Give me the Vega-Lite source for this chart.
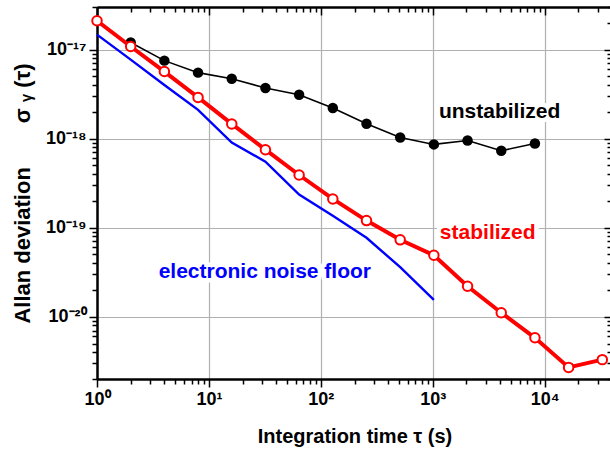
{
  "$schema": "https://vega.github.io/schema/vega-lite/v6.json",
  "width": 515,
  "height": 372,
  "autosize": "none",
  "padding": {"left": 97, "top": 7, "right": 0, "bottom": 70},
  "background": "white",
  "config": {"view": {"stroke": null}, "font": "Liberation Sans"},
  "datasets": {
    "allan": [
      {"series": "stabilized", "tau": 1, "sigma": 2.1e-17},
      {"series": "stabilized", "tau": 2, "sigma": 1.08e-17},
      {"series": "stabilized", "tau": 4, "sigma": 5.66e-18},
      {"series": "stabilized", "tau": 8, "sigma": 2.9e-18},
      {"series": "stabilized", "tau": 16, "sigma": 1.46e-18},
      {"series": "stabilized", "tau": 32, "sigma": 7.5e-19},
      {"series": "stabilized", "tau": 64, "sigma": 3.9e-19},
      {"series": "stabilized", "tau": 128, "sigma": 2.1e-19},
      {"series": "stabilized", "tau": 256, "sigma": 1.2e-19},
      {"series": "stabilized", "tau": 512, "sigma": 7.3e-20},
      {"series": "stabilized", "tau": 1024, "sigma": 4.9e-20},
      {"series": "stabilized", "tau": 2048, "sigma": 2.2e-20},
      {"series": "stabilized", "tau": 4096, "sigma": 1.11e-20},
      {"series": "stabilized", "tau": 8192, "sigma": 5.8e-21},
      {"series": "stabilized", "tau": 16384, "sigma": 2.7e-21},
      {"series": "stabilized", "tau": 32768, "sigma": 3.3e-21},
      {"series": "unstabilized", "tau": 2, "sigma": 1.2e-17},
      {"series": "unstabilized", "tau": 4, "sigma": 7.5e-18},
      {"series": "unstabilized", "tau": 8, "sigma": 5.5e-18},
      {"series": "unstabilized", "tau": 16, "sigma": 4.7e-18},
      {"series": "unstabilized", "tau": 32, "sigma": 3.7e-18},
      {"series": "unstabilized", "tau": 64, "sigma": 3.1e-18},
      {"series": "unstabilized", "tau": 128, "sigma": 2.2e-18},
      {"series": "unstabilized", "tau": 256, "sigma": 1.47e-18},
      {"series": "unstabilized", "tau": 512, "sigma": 1.03e-18},
      {"series": "unstabilized", "tau": 1024, "sigma": 8.6e-19},
      {"series": "unstabilized", "tau": 2048, "sigma": 9.5e-19},
      {"series": "unstabilized", "tau": 4096, "sigma": 7.3e-19},
      {"series": "unstabilized", "tau": 8192, "sigma": 8.8e-19}
    ],
    "noise": [
      {"tau": 1, "sigma": 1.47e-17},
      {"tau": 2, "sigma": 7.7e-18},
      {"tau": 4, "sigma": 4.0e-18},
      {"tau": 8, "sigma": 2.1e-18},
      {"tau": 16, "sigma": 9.0e-19},
      {"tau": 32, "sigma": 5.5e-19},
      {"tau": 64, "sigma": 2.35e-19},
      {"tau": 128, "sigma": 1.36e-19},
      {"tau": 256, "sigma": 7.7e-20},
      {"tau": 512, "sigma": 3.6e-20},
      {"tau": 1024, "sigma": 1.55e-20}
    ],
    "labels": [
      {"text": "unstabilized", "tau": 3960, "sigma": 2.0e-18, "color": "black"},
      {"text": "stabilized", "tau": 3100, "sigma": 8.8e-20, "color": "red"},
      {"text": "electronic noise floor", "tau": 31.6, "sigma": 3.2e-20, "color": "blue"}
    ]
  },
  "layer": [
    {
      "layer": [
        {
          "data": {"name": "allan"},
          "transform": [{"filter": "datum.series == 'unstabilized'"}],
          "mark": {"type": "line", "color": "black", "strokeWidth": 1.6, "clip": true},
          "encoding": {
            "x": {
              "field": "tau", "type": "quantitative",
              "scale": {"type": "log", "domain": [1, 40000], "nice": false, "zero": false},
              "axis": {
                "orient": "bottom",
                "values": [1,2,3,4,5,6,7,8,9,10,20,30,40,50,60,70,80,90,100,200,300,400,500,600,700,800,900,1000,2000,3000,4000,5000,6000,7000,8000,9000,10000,20000,30000,40000],
                "labelExpr": "datum.value==1?'10⁰':datum.value==10?'10¹':datum.value==100?'10²':datum.value==1000?'10³':datum.value==10000?'10⁴':''",
                "grid": true,
                "gridColor": "#b0b0b0",
                "gridWidth": 1.2,
                "gridOpacity": {"condition": {"test": "abs(log(datum.value)/LN10 - round(log(datum.value)/LN10)) < 0.001", "value": 1}, "value": 0},
                "domainColor": "black",
                "domainWidth": 2.5,
                "tickColor": "black",
                "tickWidth": 1.5,
                "tickSize": {"condition": {"test": "abs(log(datum.value)/LN10 - round(log(datum.value)/LN10)) < 0.001", "value": 8}, "value": 5},
                "labelFont": "Liberation Sans",
                "labelFontWeight": "bold",
                "labelFontSize": 18,
                "labelColor": "black",
                "labelPadding": 3,
                "labelFlush": false,
                "labelOverlap": false,
                "title": "Integration time τ (s)",
                "titleFont": "Liberation Sans",
                "titleFontSize": 20,
                "titleFontWeight": "bold",
                "titleColor": "black",
                "titlePadding": 18
              }
            },
            "y": {
              "field": "sigma", "type": "quantitative",
              "scale": {"type": "log", "domain": [2e-21, 3e-17], "nice": false, "zero": false},
              "axis": {
                "orient": "left",
                "values": [2e-21,3e-21,4e-21,5e-21,6e-21,7e-21,8e-21,9e-21,1e-20,2e-20,3e-20,4e-20,5e-20,6e-20,7e-20,8e-20,9e-20,1e-19,2e-19,3e-19,4e-19,5e-19,6e-19,7e-19,8e-19,9e-19,1e-18,2e-18,3e-18,4e-18,5e-18,6e-18,7e-18,8e-18,9e-18,1e-17,2e-17,3e-17],
                "labelExpr": "datum.value==1e-17?'10⁻¹⁷':datum.value==1e-18?'10⁻¹⁸':datum.value==1e-19?'10⁻¹⁹':datum.value==1e-20?'10⁻²⁰':''",
                "grid": true,
                "gridColor": "#b0b0b0",
                "gridWidth": 1.2,
                "gridOpacity": {"condition": {"test": "abs(log(datum.value)/LN10 - round(log(datum.value)/LN10)) < 0.001", "value": 1}, "value": 0},
                "domainColor": "black",
                "domainWidth": 2.5,
                "tickColor": "black",
                "tickWidth": 1.5,
                "tickSize": {"condition": {"test": "abs(log(datum.value)/LN10 - round(log(datum.value)/LN10)) < 0.001", "value": 8}, "value": 5},
                "labelFont": "Liberation Sans",
                "labelFontWeight": "bold",
                "labelFontSize": 18,
                "labelColor": "black",
                "labelPadding": 3,
                "labelFlush": false,
                "labelOverlap": false,
                "title": "Allan deviation\u2003\u2003σ ᵧ (τ)",
                "titleFont": "Liberation Sans",
                "titleFontSize": 22,
                "titleFontWeight": "bold",
                "titleColor": "black",
                "titlePadding": 11
              }
            }
          }
        },
        {
          "data": {"name": "allan"},
          "transform": [{"filter": "datum.series == 'unstabilized'"}],
          "mark": {"type": "point", "shape": "circle", "filled": true, "color": "black", "size": 110, "opacity": 1},
          "encoding": {
            "x": {"field": "tau", "type": "quantitative"},
            "y": {"field": "sigma", "type": "quantitative"}
          }
        },
        {
          "data": {"name": "noise"},
          "mark": {"type": "line", "color": "#0000ff", "strokeWidth": 2.4},
          "encoding": {
            "x": {"field": "tau", "type": "quantitative"},
            "y": {"field": "sigma", "type": "quantitative"}
          }
        },
        {
          "data": {"name": "allan"},
          "transform": [{"filter": "datum.series == 'stabilized'"}],
          "mark": {"type": "line", "color": "#ff0000", "strokeWidth": 4, "clip": true},
          "encoding": {
            "x": {"field": "tau", "type": "quantitative"},
            "y": {"field": "sigma", "type": "quantitative"}
          }
        },
        {
          "data": {"name": "allan"},
          "transform": [{"filter": "datum.series == 'stabilized'"}],
          "mark": {"type": "point", "shape": "circle", "filled": true, "fill": "white", "stroke": "#ff0000", "strokeWidth": 2, "size": 90, "opacity": 1},
          "encoding": {
            "x": {"field": "tau", "type": "quantitative"},
            "y": {"field": "sigma", "type": "quantitative"}
          }
        },
        {
          "data": {"name": "labels"},
          "mark": {"type": "text", "font": "Liberation Sans", "fontWeight": "bold", "fontSize": 21, "align": "center", "baseline": "middle", "fill": "white", "stroke": "white", "strokeWidth": 9, "strokeJoin": "round"},
          "encoding": {
            "x": {"field": "tau", "type": "quantitative"},
            "y": {"field": "sigma", "type": "quantitative"},
            "text": {"field": "text"}
          }
        },
        {
          "data": {"name": "labels"},
          "mark": {"type": "text", "font": "Liberation Sans", "fontWeight": "bold", "fontSize": 21, "align": "center", "baseline": "middle"},
          "encoding": {
            "x": {"field": "tau", "type": "quantitative"},
            "y": {"field": "sigma", "type": "quantitative"},
            "text": {"field": "text"},
            "color": {"field": "color", "type": "nominal", "scale": null}
          }
        }
      ]
    },
    {
      "data": {"name": "noise"},
      "mark": {"type": "point", "opacity": 0},
      "encoding": {
        "x": {
          "field": "tau", "type": "quantitative",
          "axis": {
            "orient": "top",
            "values": [1,2,3,4,5,6,7,8,9,10,20,30,40,50,60,70,80,90,100,200,300,400,500,600,700,800,900,1000,2000,3000,4000,5000,6000,7000,8000,9000,10000,20000,30000,40000],
            "labels": false, "grid": false, "title": null,
            "domainColor": "black", "domainWidth": 2.5,
            "tickColor": "black", "tickWidth": 1.5,
            "tickSize": {"condition": {"test": "abs(log(datum.value)/LN10 - round(log(datum.value)/LN10)) < 0.001", "value": -8}, "value": -5}
          }
        },
        "y": {
          "field": "sigma", "type": "quantitative",
          "axis": {
            "orient": "right",
            "values": [2e-21,3e-21,4e-21,5e-21,6e-21,7e-21,8e-21,9e-21,1e-20,2e-20,3e-20,4e-20,5e-20,6e-20,7e-20,8e-20,9e-20,1e-19,2e-19,3e-19,4e-19,5e-19,6e-19,7e-19,8e-19,9e-19,1e-18,2e-18,3e-18,4e-18,5e-18,6e-18,7e-18,8e-18,9e-18,1e-17,2e-17,3e-17],
            "labels": false, "grid": false, "title": null,
            "domainColor": "black", "domainWidth": 2.5,
            "tickColor": "black", "tickWidth": 1.5,
            "tickSize": {"condition": {"test": "abs(log(datum.value)/LN10 - round(log(datum.value)/LN10)) < 0.001", "value": -8}, "value": -5}
          }
        }
      }
    }
  ],
  "resolve": {"axis": {"x": "independent", "y": "independent"}}
}
